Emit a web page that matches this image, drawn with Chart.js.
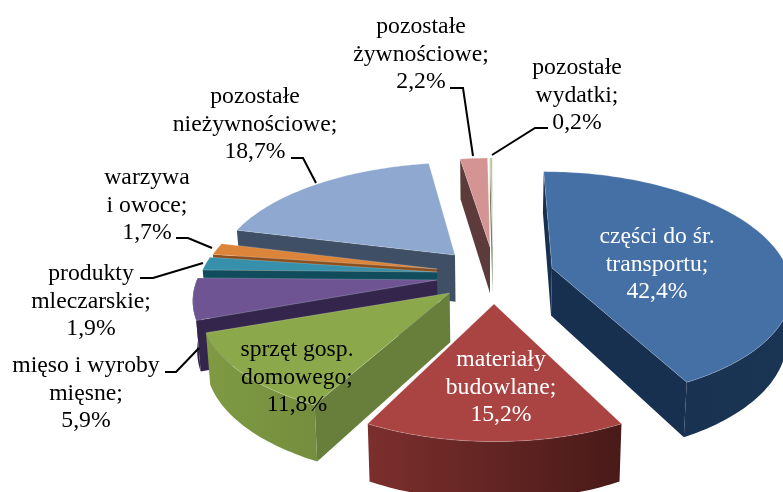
<!DOCTYPE html>
<html><head><meta charset="utf-8">
<style>html,body{margin:0;padding:0;background:#fff}canvas{display:block}</style>
<script src="https://cdn.jsdelivr.net/npm/chart.js@4"></script>
</head><body><canvas id="c" width="783" height="492"></canvas>
<script>
const categories = [
  ["części do śr.","transportu;"],
  ["materiały","budowlane;"],
  ["sprzęt gosp.","domowego;"],
  ["mięso i wyroby","mięsne;"],
  ["produkty","mleczarskie;"],
  ["warzywa","i owoce;"],
  ["pozostałe","nieżywnościowe;"],
  ["pozostałe","żywnościowe;"],
  ["pozostałe","wydatki;"]
];
const values = [42.4,15.2,11.8,5.9,1.9,1.7,18.7,2.2,0.2];
const topColors  = ["#4470A6","#A94442","#8BA84A","#6F5493","#3790AB","#DC843A","#8FA8CF","#D49493","#B9C79C"];
const wallColors = ["#18304F","#7C2F2D","#677F3A","#34254D","#104C5C","#8A4F1E","#3F4F66","#5E3B3B","#6F7A58"];
const rimLeft    = ["#18304F","#7C2F2D","#7F9A42","#34254D","#104C5C","#8A4F1E","#3F4F66","#5E3B3B","#6F7A58"];
const rimRight   = ["#1A3453","#481A18","#677F3A","#2C1F42","#104C5C","#8A4F1E","#3F4F66","#5E3B3B","#6F7A58"];
const labelColors = ["#fff","#fff","#000","#000","#000","#000","#000","#000","#000"];
// Camera of the 3-D pie
const view = {X0:490,Y0:275,A:225,B:110,p:0.15,D:48};
// Explosion (u0,v0) and stretch (su,sv) of each slice on the pie plane
const explode = [
  {u0:.278,v0:-.064,su:1.055,sv:1.03},
  {u0:.017,v0:.254,su:1.02,sv:.98},
  {u0:-.175,v0:.16,su:1.06,sv:.95},
  {u0:-.234,v0:.045,su:1.06,sv:1},
  {u0:-.236,v0:-.027,su:1.05,sv:1},
  {u0:-.237,v0:-.055,su:1.04,sv:1},
  {u0:-.16,v0:-.186,su:1.07,sv:1.02},
  {u0:0,v0:-.265,su:1.05,sv:1},
  {u0:.012,v0:-.265,su:1,sv:1}
];
const drawOrder = [8,7,6,5,4,3,2,1,0];
const labelPos = [[657,243],[501,366],[297,356],[86,372],[91,280],[147,184],[255,103],[421,33],[577,74]];
const lineGap = 27.5;
const leaders = [
  [[450,88],[463,88],[473,156]],
  [[548,128],[535,128],[492,155]],
  [[291,158],[303,158],[316,183]],
  [[176,238],[188,238],[212,248]],
  [[140,278],[153,278],[203,263]],
  [[165,372],[176,372],[199,348]]
];

function project(u,v,drop){
  const w = 1 - view.p*v;
  const x = view.X0 + view.A*u/w;
  const y = view.Y0 + view.B*v/w;
  if(!drop) return [x,y];
  return [view.X0 + (x-view.X0)*0.985, y + view.D/w];
}
function poly(ctx,pts){ctx.beginPath();pts.forEach((p,i)=>i?ctx.lineTo(p[0],p[1]):ctx.moveTo(p[0],p[1]));ctx.closePath();}
function cross(a,b,c){return (b[0]-a[0])*(c[1]-a[1])-(b[1]-a[1])*(c[0]-a[0]);}

const pie3d = {
  id:'pie3d',
  beforeDatasetsDraw(chart){
    const ctx = chart.ctx, arcs = chart.getDatasetMeta(0).data;
    ctx.save();
    ctx.lineJoin='round';
    drawOrder.forEach(i=>{
      const a = arcs[i], e = explode[i];
      const N = Math.max(2,Math.ceil((a.endAngle-a.startAngle)/0.02));
      const P=(t,drop)=>project(e.u0+e.su*Math.cos(t),e.v0+e.sv*Math.sin(t),drop);
      const apexT=project(e.u0,e.v0,false), apexB=project(e.u0,e.v0,true);
      const top=[],bot=[],angle=[];
      for(let k=0;k<=N;k++){const t=a.startAngle+(a.endAngle-a.startAngle)*k/N;angle.push(t);top.push(P(t,false));bot.push(P(t,true));}
      const mid=top[Math.floor(N/2)];
      const xs=top.map(p=>p[0]).concat(apexT[0]);
      const g=ctx.createLinearGradient(Math.min(...xs),0,Math.max(...xs),0);
      g.addColorStop(0,rimLeft[i]);g.addColorStop(1,rimRight[i]);
      const wall=(c,cb)=>{
        const outSign=cross(apexT,c,[apexT[0],apexT[1]+1])>0;
        const inSign=cross(apexT,c,mid)>0;
        if(outSign!==inSign){poly(ctx,[apexT,c,cb,apexB]);ctx.fillStyle=wallColors[i];ctx.fill();}
      };
      wall(top[0],bot[0]);
      wall(top[N],bot[N]);
      // outer rim: the front-facing part as one shape
      const rt=[],rb=[];
      for(let k=0;k<=N;k++){ if(Math.sin(angle[k])>-0.02){rt.push(top[k]);rb.unshift(bot[k]);} }
      if(rt.length>1){poly(ctx,rt.concat(rb));ctx.fillStyle=g;ctx.fill();}
      // top face
      poly(ctx,[apexT].concat(top));
      ctx.fillStyle=topColors[i];ctx.fill();
      ctx.strokeStyle='rgba(255,255,255,.2)';ctx.lineWidth=1;ctx.stroke();
    });
    ctx.restore();
    return false;
  },
  afterDraw(chart){
    const ctx=chart.ctx;
    ctx.save();
    ctx.strokeStyle='#000';ctx.lineWidth=2;ctx.lineJoin='miter';
    leaders.forEach(l=>{ctx.beginPath();l.forEach((p,i)=>i?ctx.lineTo(p[0],p[1]):ctx.moveTo(p[0],p[1]));ctx.stroke();});
    ctx.font='23.7px "Liberation Serif"';ctx.textAlign='center';ctx.textBaseline='alphabetic';
    categories.forEach((lines,i)=>{
      ctx.fillStyle=labelColors[i];
      const all=lines.concat(values[i].toFixed(1).replace('.',',')+'%');
      all.forEach((s,j)=>ctx.fillText(s,labelPos[i][0],labelPos[i][1]+j*lineGap));
    });
    ctx.restore();
  }
};

new Chart(document.getElementById('c'),{
  type:'pie',
  data:{labels:categories.map(c=>c.join(' ')),datasets:[{data:values,backgroundColor:topColors,borderWidth:0}]},
  options:{responsive:false,animation:false,layout:{padding:0},
    plugins:{legend:{display:false},tooltip:{enabled:false}}},
  plugins:[pie3d]
});
</script></body></html>
